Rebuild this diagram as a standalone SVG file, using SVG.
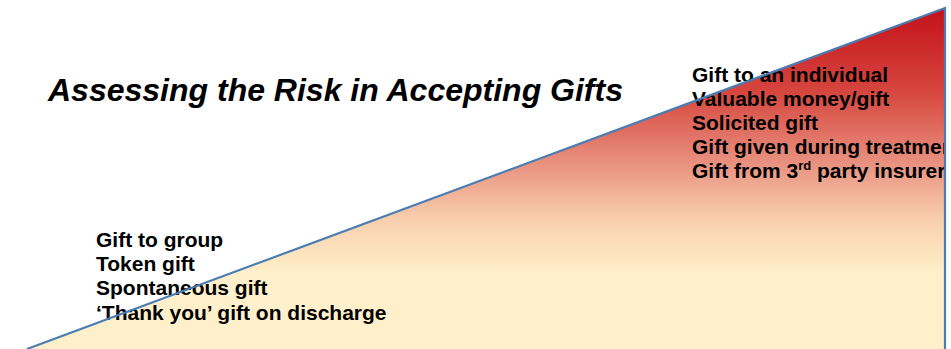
<svg xmlns="http://www.w3.org/2000/svg" width="951" height="349" viewBox="0 0 951 349">
<style>
.t{font-family:"Liberation Sans",Arial,sans-serif;font-weight:bold;font-size:21px;fill:#000}
.title{font-family:"Liberation Sans",Arial,sans-serif;font-weight:bold;font-style:italic;font-size:32px;fill:#000}
</style>
<defs>
<linearGradient id="g" x1="0" y1="8" x2="0" y2="349" gradientUnits="userSpaceOnUse">
<stop offset="0" stop-color="#c3111a"/>
<stop offset="0.25" stop-color="#d6473f"/>
<stop offset="0.45" stop-color="#e88f7e"/>
<stop offset="0.62" stop-color="#f8cfae"/>
<stop offset="0.78" stop-color="#fff0cb"/>
<stop offset="1" stop-color="#fff0cc"/>
</linearGradient>
<clipPath id="c"><rect x="0" y="0" width="944" height="349"/></clipPath>
</defs>
<rect width="951" height="349" fill="#fff"/>
<g id="triangle">
<polygon points="27,349 945,8 945,349" fill="url(#g)"/>
</g>
<g id="title"><text class="title" x="48" y="101">Assessing the Risk in Accepting Gifts</text></g>
<g id="high-risk" clip-path="url(#c)">
<text class="t" x="692" y="82">Gift to an individual</text>
<text class="t" x="692" y="106">Valuable money/gift</text>
<text class="t" x="692" y="130">Solicited gift</text>
<text class="t" x="692" y="154">Gift given during treatment</text>
<text class="t" x="692" y="178">Gift from 3<tspan font-size="13" dy="-8">rd</tspan><tspan dy="8"> party insurer</tspan></text>
</g>
<g id="low-risk">
<text class="t" x="96" y="247">Gift to group</text>
<text class="t" x="96" y="271">Token gift</text>
<text class="t" x="96" y="295">Spontaneous gift</text>
<text class="t" x="96" y="320">‘Thank you’ gift on discharge</text>
</g>
<g id="connectors">
<polyline points="27,349 945,8 945,349" fill="none" stroke="#4a7db3" stroke-width="2.2"/>
</g>
</svg>
